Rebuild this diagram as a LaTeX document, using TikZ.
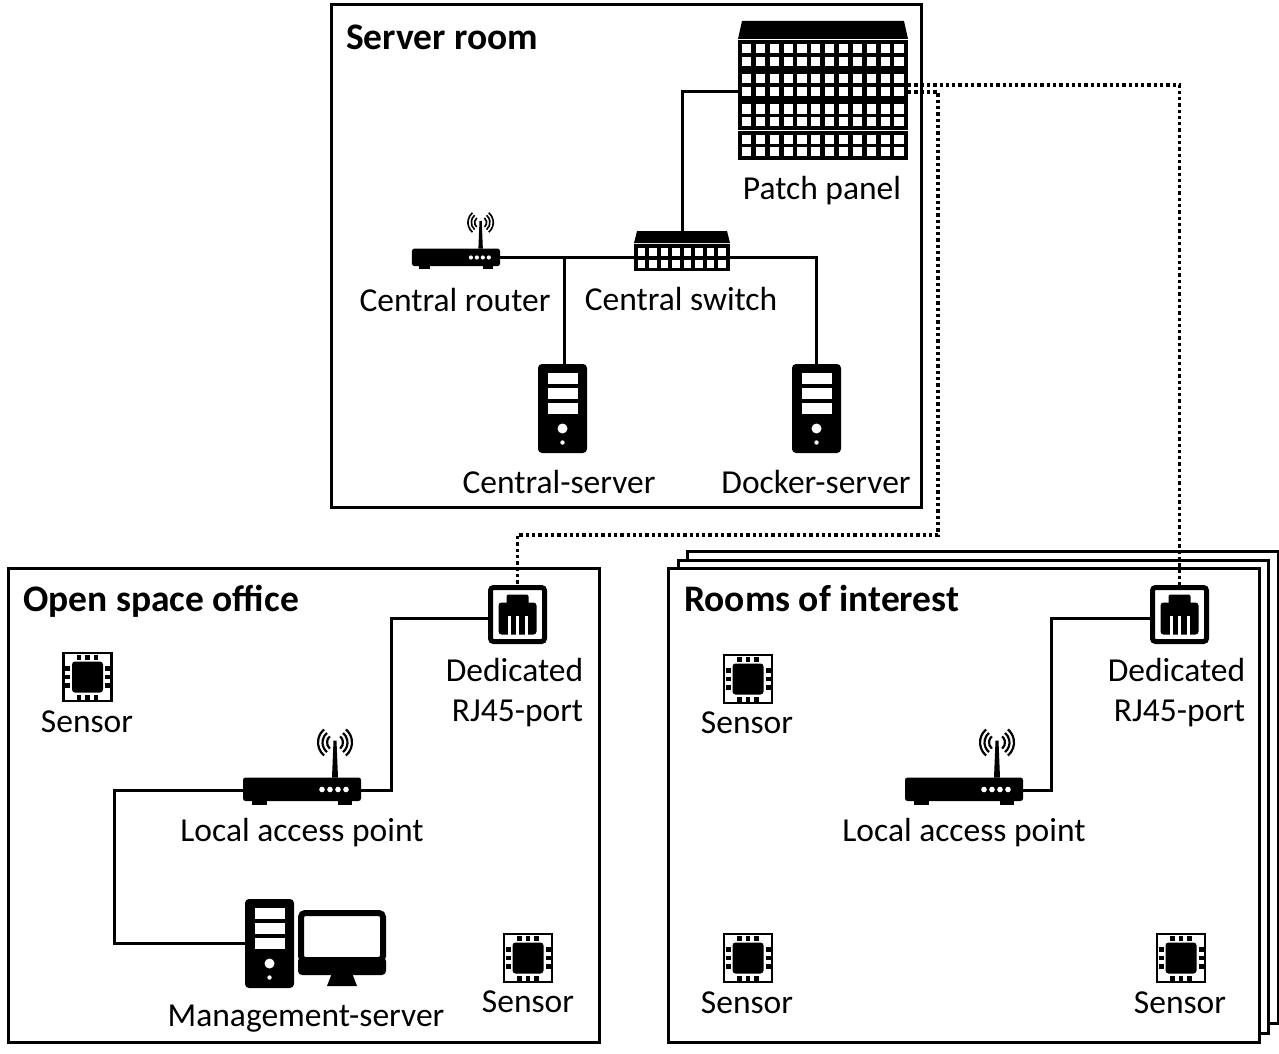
\documentclass[tikz,border=0pt]{standalone}
\usepackage{fontspec}
\setmainfont{Carlito}
\tikzset{
  room/.style={draw=black, line width=3pt, fill=white},
  link/.style={draw=black, line width=3pt},
  fibre/.style={draw=black, line width=3.4pt, dash pattern=on 3.3pt off 3pt},
  slab/.style={inner sep=0pt, outer sep=0pt, anchor=center},
  lbl/.style={font=\fontsize{33.5}{40}\selectfont, inner sep=0pt},
  title/.style={font=\fontsize{37.5}{40}\selectfont\bfseries, inner sep=0pt, anchor=west,
    text height=24pt, text depth=8pt}
}
% icons, each drawn round its centre
\newcommand{\panelrow}[4]{%
  \foreach \r in {1,...,#3} {
    \fill[white] ({#1+(\r-1)*#4},#2) rectangle ++(#4*0.66,#4*0.66);
  }
}
\newcommand{\towericon}[2]{%
  \begin{scope}[shift={(#1,#2)}]
    \fill[black, rounded corners=4pt] (-24.5,-44.5) rectangle (24.5,44.5);
    \fill[white] (-15,-35.5) rectangle (15,-24.5);
    \fill[white] (-15,-21) rectangle (15,-10);
    \fill[white] (-15,-6) rectangle (15,5);
    \fill[white] (0,20) circle (5);
    \fill[white] (0,34) circle (2.2);
  \end{scope}
}
\newcommand{\routericon}[3]{%
  \begin{scope}[shift={(#1,#2)}, scale=#3]
    \fill[black, rounded corners=2.5pt] (-59,-12) rectangle (59,11.5);
    \fill[black] (-50,10) rectangle (-35,15);
    \fill[black] (36,10) rectangle (50,15);
    \fill[black] (30,-12) -- (31.5,-49) -- (34.5,-49) -- (36,-12) -- cycle;
    \foreach \rad in {8,12.5,17} {
      \draw[line width=#3*2.2pt] (33,-47) ++(130:\rad) arc (130:230:\rad);
      \draw[line width=#3*2.2pt] (33,-47) ++(50:\rad) arc (50:-50:\rad);
    }
    \foreach \dotx in {20,28,36,44} {
      \fill[white] (\dotx,0) circle (2.8);
    }
  \end{scope}
}
\newcommand{\porticon}[2]{%
  \begin{scope}[shift={(#1,#2)}]
    \draw[line width=5pt, rounded corners=3pt] (-27,-27) rectangle (27,27);
    \fill[black, rounded corners=2pt] (-11,-20) rectangle (11,-8);
    \fill[black, rounded corners=3pt] (-19,-12) rectangle (19,20);
    \foreach \pinx in {-10,-2,7} {
      \fill[white] (\pinx,1) rectangle ++(3,19);
    }
  \end{scope}
}
\newcommand{\sensoricon}[2]{%
  \begin{scope}[shift={(#1,#2)}]
    \draw[line width=2.8pt] (-24,-24) rectangle (24,24);
    \fill[black, rounded corners=3pt] (-15.5,-15.5) rectangle (15.5,15.5);
    \foreach \pin in {-8.5,0,8.5} {
      \fill[black] (\pin-2.4,-22.5) rectangle (\pin+2.4,-17.5);
      \fill[black] (\pin-2.4,17.5) rectangle (\pin+2.4,22.5);
      \fill[black] (-22.5,\pin-2.4) rectangle (-17.5,\pin+2.4);
      \fill[black] (17.5,\pin-2.4) rectangle (22.5,\pin+2.4);
    }
  \end{scope}
}
\begin{document}
\begin{tikzpicture}[x=1pt, y=-1pt]
\useasboundingbox (0,0) rectangle (1279,1054);

% rooms
\draw[room] (331,5) rectangle (921,507);
\draw[room] (8,568) rectangle (599.5,1042);
\draw[room] (687,551) rectangle (1278,1023);
\draw[room] (678,560) rectangle (1268,1033);
\draw[room] (668,568) rectangle (1259,1042);

\node[title] (servertitle) at (346,41.5) {Server room};
\node[title] (officetitle) at (23,603.5) {Open space office};
\node[title] (roomstitle) at (684,603.5) {Rooms of interest};

% places of the equipment
\node[slab, minimum width=170pt, minimum height=139pt] (patch) at (823,90.5) {};
\node[slab, minimum width=96pt, minimum height=40pt] (switch) at (682,251) {};
\node[slab, minimum width=88pt, minimum height=18pt] (router) at (456,257) {};
\node[slab, minimum width=49pt, minimum height=89pt] (central) at (562.5,408.5) {};
\node[slab, minimum width=49pt, minimum height=89pt] (docker) at (816.5,408.5) {};
\node[slab, minimum width=59pt, minimum height=59pt] (rjoffice) at (517.5,614.5) {};
\node[slab, minimum width=59pt, minimum height=59pt] (rjrooms) at (1179.5,614.5) {};
\node[slab, minimum width=118pt, minimum height=24pt] (apoffice) at (302,790) {};
\node[slab, minimum width=118pt, minimum height=24pt] (aprooms) at (964,790) {};
\node[slab, minimum width=49pt, minimum height=89pt] (mgmt) at (269.5,943.5) {};

\coordinate (turnoffice) at (391,618);
\coordinate (turnrooms) at (1051,618);
\coordinate (turnmgmt) at (114,790);
\coordinate (turnfibre) at (938,535);

% cables
\draw[link] (router.east) -- (switch.center |- router.east) -| (docker.north);
\draw[link] ([xshift=1.5pt]central.north) -- ([xshift=1.5pt]central.north |- router.east);
\draw[link] (switch.north) |- ([yshift=-1.5pt]patch.west);
\draw[link] (apoffice.east) -| (turnoffice) -- (turnoffice -| rjoffice.west);
\draw[link] (aprooms.east) -| (turnrooms) -- (turnrooms -| rjrooms.west);
\draw[link] (apoffice.west) -- (turnmgmt) |- (mgmt.west);
\draw[fibre] ([yshift=5.5pt]patch.east) -| (rjrooms.north);
\draw[fibre] ([yshift=-1.5pt]patch.east) -| (turnfibre) -| (rjoffice.north);

% patch panel
\fill[black] (742,21) -- (904,21) -- (908,39) -- (738,39) -- cycle;
\foreach \y in {40,70.2,100.4,130.6} {
  \fill[black] (738,\y) rectangle (908,\y+29.8);
  \panelrow{742}{\y+4}{12}{13.85}
  \panelrow{742}{\y+16.6}{12}{13.85}
}
% switch
\fill[black] (637,231) -- (727,231) -- (730,243) -- (634,243) -- cycle;
\fill[black] (634,244) rectangle (730,271);
\panelrow{637.5}{248}{8}{11.5}
\panelrow{637.5}{260}{8}{11.5}

\routericon{456}{257.5}{0.746}
\routericon{302}{789.5}{1}
\routericon{964}{789.5}{1}
\towericon{562.5}{408.5}
\towericon{816.5}{408.5}
\towericon{269.5}{943.5}
\porticon{517.5}{614.5}
\porticon{1179.5}{614.5}
\sensoricon{87.5}{677}
\sensoricon{528}{958}
\sensoricon{748}{679}
\sensoricon{748}{958}
\sensoricon{1181}{958}

% monitor
\draw[line width=6pt, rounded corners=4pt] (301,913) rectangle (383,960);
\fill[black, rounded corners=4pt] (298,957) rectangle (386,975);
\fill[black] (332,973) -- (352,973) -- (357,986) -- (327,986) -- cycle;

% labels
\node[lbl] (patchlbl) at (822,191) {Patch panel};
\node[lbl] (routerlbl) at (455,300) {Central router};
\node[lbl] (switchlbl) at (681,299) {Central switch};
\node[lbl] (centrallbl) at (559,482) {Central-server};
\node[lbl] (dockerlbl) at (816,482) {Docker-server};
\node[lbl, align=right] (rjofficelbl) at (514.5,693) {Dedicated\\RJ45-port};
\node[lbl, align=right] (rjroomslbl) at (1176.5,693) {Dedicated\\RJ45-port};
\node[lbl] (aplbl) at (302,833) {Local access point};
\node[lbl] (aproomslbl) at (964,833) {Local access point};
\node[lbl] (mgmtlbl) at (306,1019) {Management-server};
\node[lbl] (sensora) at (87,721.5) {Sensor};
\node[lbl] (sensorb) at (528,1001.5) {Sensor};
\node[lbl] (sensorc) at (747,722.5) {Sensor};
\node[lbl] (sensord) at (747,1002.5) {Sensor};
\node[lbl] (sensore) at (1180,1002.5) {Sensor};
\end{tikzpicture}
\end{document}
